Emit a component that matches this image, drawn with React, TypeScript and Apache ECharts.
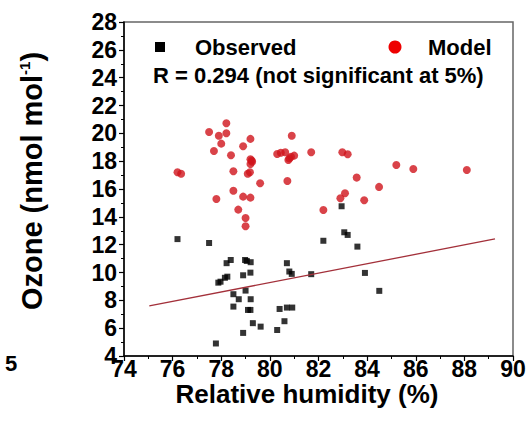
import React, { useEffect, useRef } from "react";
import * as echarts from "echarts";

const observed: [number, number][] = [
  [76.2, 12.4], [77.5, 12.12], [82.2, 12.28], [82.95, 14.76], [83.06, 12.89],
  [83.2, 12.7], [83.6, 11.86], [83.91, 9.97], [84.5, 8.68], [78.22, 10.67],
  [78.39, 10.9], [78.98, 10.9], [79.05, 10.83], [79.21, 10.74], [78.15, 9.62],
  [78.25, 9.7], [77.88, 9.27], [77.97, 9.34], [78.9, 9.8], [79.2, 9.99],
  [80.7, 10.67], [80.8, 10.07], [80.9, 9.9], [81.7, 9.88], [79.0, 8.7],
  [78.5, 8.44], [78.72, 8.08], [79.21, 8.08], [78.5, 7.55], [79.1, 7.31],
  [79.2, 7.31], [80.4, 7.38], [80.7, 7.48], [80.92, 7.48], [79.3, 6.36],
  [79.62, 6.11], [80.6, 6.5], [80.3, 5.87], [78.9, 5.66], [77.78, 4.9],
];

const model: [number, number][] = [
  [76.2, 17.2], [76.35, 17.1], [77.5, 20.1], [77.9, 19.83], [78.21, 20.72],
  [78.21, 20.0], [78.0, 19.26], [77.7, 18.73], [79.2, 19.6], [78.9, 19.07],
  [78.4, 18.42], [79.2, 18.14], [79.27, 17.96], [79.2, 17.8], [79.25, 18.05],
  [78.5, 17.27], [79.18, 17.2], [79.09, 17.1], [79.6, 16.41], [78.5, 15.88],
  [77.8, 15.28], [78.9, 15.45], [79.2, 15.38], [78.7, 14.52], [79.0, 13.92],
  [79.0, 13.32], [80.9, 19.83], [80.3, 18.52], [80.45, 18.6], [80.63, 18.64],
  [80.76, 18.09], [80.87, 18.32], [81.0, 18.4], [80.8, 18.2], [81.7, 18.64],
  [80.72, 16.58], [82.98, 18.64], [83.2, 18.5], [83.09, 15.69], [82.9, 15.33],
  [82.2, 14.49], [85.2, 17.73], [85.9, 17.44], [88.1, 17.37], [83.57, 16.82],
  [84.49, 16.15], [83.88, 15.19],
];

const fitLine: [number, number][] = [
  [75.04, 7.6],
  [89.26, 12.41],
];

const FONT = "'Liberation Sans', Arial, sans-serif";

export default function App() {
  const ref = useRef<HTMLDivElement>(null);
  useEffect(() => {
    if (!ref.current) return;
    const chart = echarts.init(ref.current, null, { renderer: "svg" });
    chart.setOption({
      animation: false,
      backgroundColor: "#fff",
      grid: {
        left: 124,
        right: 17,
        top: 22,
        bottom: 65,
        show: true,
        borderColor: "#666",
        borderWidth: 1.5,
      },
      xAxis: {
        type: "value",
        min: 74,
        max: 90,
        interval: 2,
        axisLine: { show: true, lineStyle: { color: "#000", width: 1.5 } },
        axisTick: { show: true, length: 5, lineStyle: { color: "#000", width: 1.2 } },
        minorTick: { show: true, splitNumber: 2, length: 3, lineStyle: { color: "#000", width: 1 } },
        splitLine: { show: false },
        axisLabel: {
          color: "#000",
          fontSize: 23,
          fontWeight: "bold",
          fontFamily: FONT,
          margin: 1,
        },
      },
      yAxis: {
        type: "value",
        min: 4,
        max: 28,
        interval: 2,
        axisLine: { show: true, lineStyle: { color: "#000", width: 1.5 } },
        axisTick: { show: true, length: 5, lineStyle: { color: "#000", width: 1.2 } },
        minorTick: { show: true, splitNumber: 2, length: 3, lineStyle: { color: "#000", width: 1 } },
        splitLine: { show: false },
        axisLabel: {
          color: "#000",
          fontSize: 23,
          fontWeight: "bold",
          fontFamily: FONT,
          margin: 7,
        },
      },
      graphic: [
        {
          type: "rect",
          shape: { x: 155, y: 42, width: 10, height: 10 },
          style: { fill: "#000" },
        },
        {
          type: "text",
          x: 195,
          y: 47,
          style: {
            text: "Observed",
            fontSize: 22,
            fontWeight: "bold",
            fontFamily: FONT,
            fill: "#000",
            align: "left",
            verticalAlign: "middle",
          },
        },
        {
          type: "circle",
          shape: { cx: 395, cy: 47, r: 6.5 },
          style: { fill: "#e00" },
        },
        {
          type: "text",
          x: 428,
          y: 47,
          style: {
            text: "Model",
            fontSize: 22,
            fontWeight: "bold",
            fontFamily: FONT,
            fill: "#000",
            align: "left",
            verticalAlign: "middle",
          },
        },
        {
          type: "text",
          x: 153,
          y: 75,
          style: {
            text: "R = 0.294 (not significant at 5%)",
            fontSize: 22,
            fontWeight: "bold",
            fontFamily: FONT,
            fill: "#000",
            align: "left",
            verticalAlign: "middle",
          },
        },
        {
          type: "text",
          x: 307,
          y: 394,
          style: {
            text: "Relative humidity (%)",
            fontSize: 26,
            fontWeight: "bold",
            fontFamily: FONT,
            fill: "#000",
            align: "center",
            verticalAlign: "middle",
          },
        },
        {
          type: "text",
          x: 32,
          y: 181,
          rotation: Math.PI / 2,
          style: {
            text: "Ozone (nmol mol{sup|-1})",
            fontSize: 29,
            fontWeight: "bold",
            fontFamily: FONT,
            fill: "#000",
            align: "center",
            verticalAlign: "middle",
            rich: {
              sup: {
                fontSize: 15,
                fontWeight: "bold",
                fontFamily: FONT,
                fill: "#000",
                padding: [0, 0, 16, 0],
              },
            },
          },
        },
        {
          type: "text",
          x: 11,
          y: 363,
          style: {
            text: "5",
            fontSize: 22,
            fontWeight: "bold",
            fontFamily: FONT,
            fill: "#000",
            align: "center",
            verticalAlign: "middle",
          },
        },
      ],
      series: [
        {
          name: "Fit",
          type: "line",
          data: fitLine,
          symbol: "none",
          lineStyle: { color: "#a3303a", width: 1.3 },
          z: 3,
        },
        {
          name: "Observed",
          type: "scatter",
          data: observed,
          symbol: "rect",
          symbolSize: 6,
          itemStyle: { color: "#000" },
          z: 2,
        },
        {
          name: "Model",
          type: "scatter",
          data: model,
          symbol: "circle",
          symbolSize: 8,
          itemStyle: { color: "#d0141c" },
          z: 2,
        },
      ],
    });
    return () => chart.dispose();
  }, []);
  return <div ref={ref} style={{ width: 530, height: 421, position: "absolute", left: 0, top: 0 }} />;
}
